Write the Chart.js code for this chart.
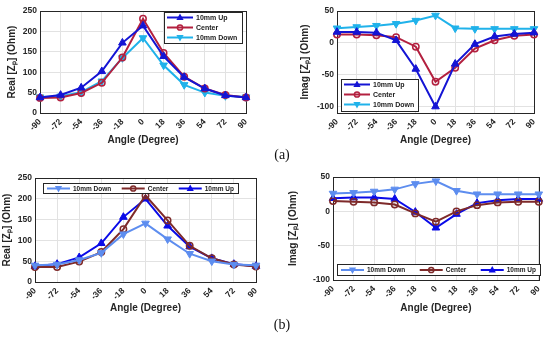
<!DOCTYPE html>
<html>
<head>
<meta charset="utf-8">
<script src="https://cdn.jsdelivr.net/npm/chart.js@4.4.1/dist/chart.umd.min.js"></script>
<style>
  body { margin: 0; background: #fff; }
  #wrap { position: relative; width: 550px; height: 345px; overflow: hidden; }
  canvas { position: absolute; }
  .cap { position: absolute; font-family: "Liberation Serif", "DejaVu Serif", serif; font-size: 14px; color: #111; width: 40px; text-align: center; }
</style>
</head>
<body>
<div id="wrap">
  <canvas id="realA" width="275" height="150" style="left:0;top:0"></canvas>
  <canvas id="imagA" width="275" height="150" style="left:275px;top:0"></canvas>
  <canvas id="realB" width="275" height="153" style="left:0;top:165px"></canvas>
  <canvas id="imagB" width="275" height="153" style="left:275px;top:165px"></canvas>
  <div class="cap" style="left:262px;top:147px">(a)</div>
  <div class="cap" style="left:262px;top:317px">(b)</div>
</div>
<script>
// angles on x axis
const angles = ["-90", "-72", "-54", "-36", "-18", "0", "18", "36", "54", "72", "90"];
const realTicks = [0, 50, 100, 150, 200, 250];
const imagTicks = [-100, -50, 0, 50];

// (a)
const realUpA = [38, 44, 62, 102, 172, 214, 139, 88, 60, 43, 38];
const realCenterA = [37, 38, 49, 74, 136, 231, 147, 89, 60, 44, 38];
const realDownA = [39, 41, 51, 78, 135, 184, 117, 69, 50, 42, 39];
const imagUpA = [17, 17, 16, 4, -41, -100, -33, -2, 10, 14, 16];
const imagCenterA = [13, 13, 12, 9, -6, -61, -39, -9, 4, 11, 13];
const imagDownA = [23, 25, 27, 30, 35, 43, 23, 22, 22, 22, 22];

// (b)
const realDownB = [40, 42, 53, 70, 115, 141, 103, 68, 50, 42, 40];
const realCenterB = [36, 36, 49, 72, 127, 208, 148, 87, 57, 42, 37];
const realUpB = [38, 43, 59, 93, 156, 200, 135, 85, 57, 43, 38];
const imagDownB = [26, 27, 29, 32, 40, 44, 30, 25, 25, 25, 25];
const imagCenterB = [15, 14, 13, 10, -3, -15, 0, 9, 13, 14, 14];
const imagUpB = [19, 20, 20, 18, -1, -24, -4, 12, 16, 18, 18];

const FONT = '"Liberation Sans", Arial, sans-serif';
Chart.defaults.font.family = FONT;
Chart.defaults.color = "#262626";

// draws a marker (used by the legend)
function marker(ctx, style, x, y, r, color) {
    ctx.beginPath();
    if (style === "circle") {
        ctx.arc(x, y, r, 0, 2 * Math.PI);
        ctx.lineWidth = 1.5;
        ctx.strokeStyle = color;
        ctx.stroke();
        return;
    }
    let s = style === "up" ? 1 : -1;
    ctx.moveTo(x, y - s * r * 1.1);
    ctx.lineTo(x + r, y + s * r * 0.7);
    ctx.lineTo(x - r, y + s * r * 0.7);
    ctx.closePath();
    ctx.fillStyle = color;
    ctx.fill();
}

// box around the plot area
const frame = {
    id: "frame",
    beforeDatasetsDraw(chart) {
        let a = chart.chartArea, ctx = chart.ctx;
        ctx.save();
        ctx.strokeStyle = "#262626";
        ctx.lineWidth = 1;
        ctx.strokeRect(Math.round(a.left) + 0.5, Math.round(a.top) + 0.5, Math.round(a.right - a.left), Math.round(a.bottom - a.top));
        ctx.restore();
    }
};

// matlab-like legend box
const legendBox = {
    id: "legendBox",
    afterDraw(chart, args, o) {
        let ctx = chart.ctx;
        let sets = chart.data.datasets;
        ctx.save();
        ctx.fillStyle = "#fff";
        ctx.fillRect(o.x, o.y, o.w, o.h);
        ctx.strokeStyle = "#262626";
        ctx.lineWidth = 1;
        ctx.strokeRect(o.x + 0.5, o.y + 0.5, o.w, o.h);
        ctx.font = "bold " + o.size + "px " + FONT;
        ctx.textBaseline = "middle";
        ctx.textAlign = "left";

        let items = sets.map(d => ({ d: d, tw: ctx.measureText(d.label).width }));
        let pos = [];
        if (o.horizontal) {
            let total = items.reduce((s, it) => s + o.lineLen + 3 + it.tw, 0);
            let gap = (o.w - 8 - total) / (items.length - 1);
            let x = o.x + 4;
            items.forEach(it => {
                pos.push([x, o.y + o.h / 2 + 0.5]);
                x += o.lineLen + 3 + it.tw + gap;
            });
        } else {
            items.forEach((it, i) => pos.push([o.x + 3, o.y + 5.5 + i * o.rowH]));
        }
        items.forEach((it, i) => {
            let [x, y] = pos[i];
            ctx.strokeStyle = it.d.borderColor;
            ctx.lineWidth = 2;
            ctx.beginPath();
            ctx.moveTo(x, y);
            ctx.lineTo(x + o.lineLen, y);
            ctx.stroke();
            marker(ctx, it.d.mk, x + o.lineLen / 2, y, it.d.mk === "circle" ? 2.6 : 3.6, it.d.borderColor);
            ctx.fillStyle = "#1a1a1a";
            ctx.fillText(it.d.label, x + o.lineLen + 3, y + 0.5);
        });
        ctx.restore();
    }
};

function serie(label, data, color, mk) {
    return {
        label: label,
        data: data,
        mk: mk,
        borderColor: color,
        borderWidth: 2,
        pointStyle: mk === "circle" ? "circle" : "triangle",
        rotation: mk === "down" ? 180 : 0,
        pointRadius: mk === "circle" ? 3.2 : 4.4,
        pointBorderWidth: mk === "circle" ? 1.5 : 1,
        pointBackgroundColor: mk === "circle" ? "rgba(255,255,255,0)" : color,
        pointBorderColor: color,
        tension: 0,
        fill: false,
        clip: false
    };
}

function grafico(id, c) {
    return new Chart(document.getElementById(id), {
        type: "line",
        data: { labels: angles, datasets: c.sets },
        options: {
            responsive: false,
            animation: false,
            devicePixelRatio: 1,
            layout: { padding: c.pad },
            plugins: {
                legend: { display: false },
                tooltip: { enabled: false },
                legendBox: c.legend
            },
            scales: {
                x: {
                    type: "category",
                    offset: false,
                    grid: { color: "#e2e2e2", drawTicks: false, offset: false },
                    border: { display: false },
                    ticks: { autoSkip: false, maxRotation: 45, minRotation: 45, padding: 4, font: { size: 8.5, weight: "bold" }, color: "#262626" },
                    title: { display: true, text: "Angle (Degree)", font: { size: 10, weight: "bold" }, color: "#262626" },
                    afterFit: s => { s.height = c.xh; }
                },
                y: {
                    min: c.min,
                    max: c.max,
                    grid: { color: "#e2e2e2", drawTicks: false },
                    border: { display: false },
                    ticks: { padding: 3, font: { size: 8.5, weight: "bold" }, color: "#262626" },
                    afterBuildTicks: s => { s.ticks = c.ticks.map(v => ({ value: v })); },
                    title: { display: true, text: c.ytitle, padding: 0, font: { size: 10, weight: "bold" }, color: "#262626" },
                    afterFit: s => { s.width = c.yw; }
                }
            }
        },
        plugins: [frame, legendBox]
    });
}

// colores
const upA = "#1414d4", centerA = "#b3203f", downA = "#20b2ea";
const upB = "#0a0ae8", centerB = "#7e2a2a", downB = "#5d8def";

grafico("realA", {
    sets: [serie("10mm Up", realUpA, upA, "up"), serie("Center", realCenterA, centerA, "circle"), serie("10mm Down", realDownA, downA, "down")],
    min: 0, max: 250, ticks: realTicks, ytitle: "Real [Zₚ] (Ohm)",
    pad: { left: 6, top: 11, right: 29, bottom: 0 }, yw: 34, xh: 37,
    legend: { x: 164, y: 12, w: 78, h: 31, rowH: 10, lineLen: 26, size: 7 }
});

grafico("imagA", {
    sets: [serie("10mm Up", imagUpA, upA, "up"), serie("Center", imagCenterA, centerA, "circle"), serie("10mm Down", imagDownA, downA, "down")],
    min: -110, max: 50, ticks: imagTicks, ytitle: "Imag [Zₚ] (Ohm)",
    pad: { left: 24, top: 11, right: 16, bottom: 0 }, yw: 38, xh: 37,
    legend: { x: 66, y: 79, w: 77, h: 32, rowH: 10, lineLen: 26, size: 7 }
});

grafico("realB", {
    sets: [serie("10mm Down", realDownB, downB, "down"), serie("Center", realCenterB, centerB, "circle"), serie("10mm Up", realUpB, upB, "up")],
    min: 0, max: 250, ticks: realTicks, ytitle: "Real [Zₚ] (Ohm)",
    pad: { left: 1, top: 13, right: 19, bottom: 0 }, yw: 34, xh: 36,
    legend: { x: 43, y: 18, w: 195, h: 10, horizontal: true, lineLen: 23, size: 6.5 }
});

grafico("imagB", {
    sets: [serie("10mm Down", imagDownB, downB, "down"), serie("Center", imagCenterB, centerB, "circle"), serie("10mm Up", imagUpB, upB, "up")],
    min: -100, max: 50, ticks: imagTicks, ytitle: "Imag [Zₚ] (Ohm)",
    pad: { left: 12, top: 12, right: 7, bottom: 0 }, yw: 46, xh: 38,
    legend: { x: 62, y: 99, w: 203, h: 11, horizontal: true, lineLen: 23, size: 6.5 }
});
</script>
</body>
</html>
